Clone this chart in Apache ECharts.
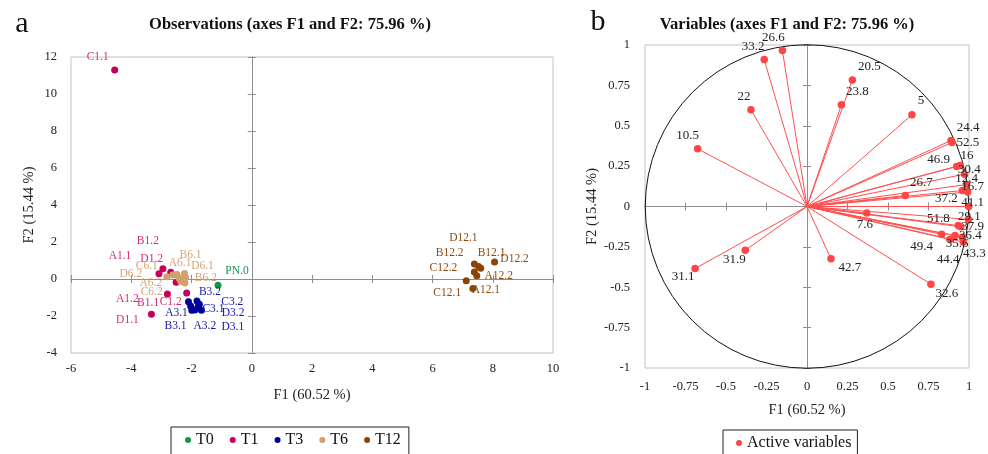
<!DOCTYPE html>
<html>
<head>
<meta charset="utf-8">
<script src="https://cdn.jsdelivr.net/npm/echarts@6/dist/echarts.min.js"></script>
<style>
html,body{margin:0;padding:0;background:#fff;}
#chart{width:988px;height:454px;}
</style>
</head>
<body>
<div id="chart"></div>
<script>
// observations: [label, F1, F2]
const obsT0 = [['PN.0', -1.12, -0.34]];
const obsT1 = [
  ['C1.1', -4.55, 11.3], ['B1.2', -2.95, 0.56], ['A1.1', -3.08, 0.29], ['D1.2', -2.69, 0.36],
  ['A1.2', -2.80, -0.81], ['B1.1', -2.51, -0.18], ['C1.2', -2.16, -0.76], ['D1.1', -3.33, -1.91]
];
const obsT3 = [
  ['B3.2', -1.82, -1.19], ['C3.2', -1.74, -1.36], ['C3.1', -1.67, -1.69], ['D3.2', -1.78, -1.50],
  ['A3.1', -2.10, -1.23], ['B3.1', -2.03, -1.46], ['A3.2', -1.99, -1.69], ['D3.1', -1.89, -1.68]
];
const obsT6 = [
  ['D6.2', -2.82, 0.12], ['C6.1', -2.62, 0.22], ['A6.1', -2.48, 0.25], ['B6.1', -2.23, 0.30],
  ['D6.1', -2.20, 0.08], ['A6.2', -2.42, 0.05], ['B6.2', -2.22, -0.22], ['C6.2', -2.36, -0.12]
];
const obsT12 = [
  ['D12.1', 7.39, 0.81], ['B12.1', 7.53, 0.67], ['D12.2', 8.06, 0.92], ['B12.2', 7.60, 0.58],
  ['C12.2', 7.39, 0.38], ['A12.2', 7.47, 0.18], ['C12.1', 7.12, -0.09], ['A12.1', 7.34, -0.52]
];
const groups = ['T0', 'T1', 'T3', 'T6', 'T12'];

// variables (correlation circle)
const varNames = ['26.6','33.2','22','10.5','20.5','23.8','5','24.4','52.5','46.9','16','30.4','12.4','16.7','26.7',
  '37.2','41.1','29.1','51.8','37.9','36.4','35.6','49.4','44.4','43.3','7.6','42.7','32.6','31.1','31.9'];
const varF1 = [-0.152,-0.264,-0.346,-0.675,0.280,0.212,0.648,0.889,0.895,0.924,0.944,0.972,0.985,0.992,0.607,
  0.959,0.998,0.996,0.934,0.949,0.959,0.914,0.831,0.883,0.965,0.369,0.148,0.765,-0.691,-0.381];
const varF2 = [0.966,0.910,0.599,0.357,0.784,0.630,0.568,0.409,0.396,0.248,0.254,0.200,0.136,0.090,0.068,
  0.099,0.000,-0.080,-0.118,-0.126,-0.190,-0.180,-0.172,-0.204,-0.220,-0.041,-0.324,-0.481,-0.384,-0.271];

const xTicksObs = [-6, 10, 2];
const yTicksObs = [-4, 12, 2];
const ticksVar = [-1, 1, 0.25];

// label placement (pixels, relative to the point)
const obsLabelOffset = {
  'C1.1': [-17,-13], 'B1.2': [-15,-28], 'A1.1': [-39,-18], 'D1.2': [-19,-13], 'A1.2': [-40,5],
  'B1.1': [-28,21], 'C1.2': [-16,9], 'D1.1': [-24,6],
  'D6.2': [-36,-3], 'C6.1': [-26,-9], 'A6.1': [3,-11], 'B6.1': [6,-18], 'D6.1': [17,-12],
  'A6.2': [-28,5], 'B6.2': [21,-5], 'C6.2': [-29,11],
  'B3.2': [13,-9], 'C3.2': [33,-2], 'C3.1': [12,-1], 'D3.2': [35,6], 'A3.1': [-12,11],
  'B3.1': [-15,20], 'A3.2': [13,16], 'D3.1': [38,17],
  'PN.0': [19,-14],
  'D12.1': [-11,-26], 'B12.1': [13,-14], 'D12.2': [20,-3], 'B12.2': [-31,-15], 'C12.2': [-31,-4],
  'A12.2': [22,0], 'C12.1': [-19,12], 'A12.1': [13,1]
};
const varLabelOffset = {
  '26.6': [-9,-13], '33.2': [-11,-13], '22': [-7,-13], '10.5': [-10,-13], '20.5': [17,-13],
  '23.8': [16,-13], '5': [9,-14], '24.4': [17,-13], '52.5': [16,0], '46.9': [-18,-7],
  '16': [7,-10], '30.4': [5,-5], '12.4': [0,-6], '16.7': [5,-5], '26.7': [16,-13],
  '37.2': [-16,8], '41.1': [4,-4], '29.1': [1,-3], '51.8': [-20,-7], '37.9': [12,0],
  '36.4': [8,-2], '35.6': [2,8], '49.4': [-20,12], '44.4': [-2,20], '43.3': [11,12],
  '7.6': [-2,11], '42.7': [19,9], '32.6': [16,9], '31.1': [-12,8], '31.9': [-11,9]
};

const serif = '"Liberation Serif", "DejaVu Serif", serif';
const axisGrey = '#8e8e8e';

function valueAxis(gridIndex, t) {
  return { type: 'value', gridIndex: gridIndex, min: t[0], max: t[1], interval: t[2],
    splitLine: { show: false }, axisPointer: { show: false } };
}
function labelledAxis(gridIndex, t, pos, name, nameGap, margin) {
  return Object.assign(valueAxis(gridIndex, t), {
    position: pos,
    axisLine: { show: false, onZero: false },
    axisTick: { show: false },
    axisLabel: { show: true, margin: margin, fontSize: 12.5, color: '#222', fontFamily: serif,
      showMinLabel: true, showMaxLabel: true },
    name: name, nameLocation: 'middle', nameGap: nameGap,
    nameTextStyle: { fontSize: 14.5, color: '#222', fontFamily: serif }
  });
}
function zeroAxis(gridIndex, t, pos, otherIndex, inside) {
  return Object.assign(valueAxis(gridIndex, t), {
    position: pos,
    axisLine: { show: true, onZero: true, onZeroAxisIndex: otherIndex, lineStyle: { color: axisGrey, width: 1 } },
    axisTick: { show: true, inside: inside, length: 4, lineStyle: { color: axisGrey } },
    axisLabel: { show: false }
  });
}

const colors = { T0: '#12964a', T1: '#c4005c', T3: '#00009c', T6: '#d2a06a', T12: '#8a4406' };
const labelColors = { T0: '#12964a', T1: '#d22c78', T3: '#1414a8', T6: '#d4a46e', T12: '#8b4a10' };

function offsetLayout(names, offsets) {
  return function (params) {
    const o = offsets[names[params.dataIndex]] || [0, -10];
    return { dx: o[0], dy: o[1], hideOverlap: false };
  };
}

function obsSeries(name, rows) {
  return {
    type: 'scatter', name: name, xAxisIndex: 0, yAxisIndex: 0, symbolSize: 7,
    itemStyle: { color: colors[name], opacity: 1 },
    data: rows.map(r => ({ name: r[0], value: [r[1], r[2]] })),
    label: { show: true, position: 'inside', formatter: '{b}', fontSize: 11.5,
      fontFamily: serif, color: labelColors[name] },
    labelLayout: offsetLayout(rows.map(r => r[0]), obsLabelOffset),
    emphasis: { disabled: true }
  };
}

const chart = echarts.init(document.getElementById('chart'), null, { renderer: 'canvas' });
chart.setOption({
  animation: false,
  backgroundColor: '#fff',
  graphic: [
    { type: 'text', x: 290, y: 25, style: { text: 'Observations (axes F1 and F2: 75.96 %)',
      font: 'bold 16.5px ' + serif, fill: '#111', textAlign: 'center', textVerticalAlign: 'middle', verticalAlign: 'middle' } },
    { type: 'text', x: 787, y: 25, style: { text: 'Variables (axes F1 and F2: 75.96 %)',
      font: 'bold 16.5px ' + serif, fill: '#111', textAlign: 'center', textVerticalAlign: 'middle', verticalAlign: 'middle' } },
    { type: 'text', x: 22, y: 24, style: { text: 'a', font: '30px ' + serif, fill: '#111',
      textAlign: 'center', textVerticalAlign: 'middle', verticalAlign: 'middle' } },
    { type: 'text', x: 598, y: 22, style: { text: 'b', font: '30px ' + serif, fill: '#111',
      textAlign: 'center', textVerticalAlign: 'middle', verticalAlign: 'middle' } }
  ],
  grid: [
    { left: 71, top: 57, width: 482, height: 296, show: true, borderColor: '#c2c2c2', borderWidth: 1,
      backgroundColor: 'transparent', outerBoundsMode: 'none', containLabel: false },
    { left: 645, top: 45, width: 324, height: 323, show: true, borderColor: '#c2c2c2', borderWidth: 1,
      backgroundColor: 'transparent', outerBoundsMode: 'none', containLabel: false }
  ],
  xAxis: [
    labelledAxis(0, xTicksObs, 'bottom', 'F1 (60.52 %)', 35, 9),
    zeroAxis(0, xTicksObs, 'bottom', 0, false),
    zeroAxis(0, xTicksObs, 'bottom', 0, true),
    labelledAxis(1, ticksVar, 'bottom', 'F1 (60.52 %)', 35, 12),
    zeroAxis(1, ticksVar, 'bottom', 3, false),
    zeroAxis(1, ticksVar, 'bottom', 3, true)
  ],
  yAxis: [
    labelledAxis(0, yTicksObs, 'left', 'F2 (15.44 %)', 34, 14),
    zeroAxis(0, yTicksObs, 'left', 0, false),
    zeroAxis(0, yTicksObs, 'left', 0, true),
    labelledAxis(1, ticksVar, 'left', 'F2 (15.44 %)', 44, 15),
    zeroAxis(1, ticksVar, 'left', 3, false),
    zeroAxis(1, ticksVar, 'left', 3, true)
  ],
  legend: [
    { data: groups, left: 171, top: 427, orient: 'horizontal', icon: 'circle',
      itemWidth: 6, itemHeight: 6, itemGap: 16, borderColor: '#222', borderWidth: 1,
      padding: [5, 8, 8, 14], selectedMode: false,
      textStyle: { fontSize: 16, fontFamily: serif, color: '#111' } },
    { data: ['Active variables'], left: 723, top: 430, orient: 'horizontal', icon: 'circle',
      itemWidth: 6, itemHeight: 6, borderColor: '#222', borderWidth: 1,
      padding: [5, 6, 8, 13], selectedMode: false,
      textStyle: { fontSize: 16, fontFamily: serif, color: '#111' } }
  ],
  series: [
    obsSeries('T0', obsT0),
    obsSeries('T1', obsT1),
    obsSeries('T3', obsT3),
    obsSeries('T6', obsT6),
    obsSeries('T12', obsT12),
    {
      type: 'custom', name: 'circle', xAxisIndex: 3, yAxisIndex: 3, data: [[0, 0]],
      silent: true, clip: false, z: 1,
      renderItem: function (params, api) {
        const c = api.coord([api.value(0), api.value(1)]);
        const s = api.size([1, 1]);
        return { type: 'circle', shape: { cx: c[0], cy: c[1], r: (s[0] + s[1]) / 2 },
          style: { fill: 'none', stroke: '#111', lineWidth: 1 } };
      }
    },
    {
      type: 'lines', name: 'vectors', coordinateSystem: 'cartesian2d', xAxisIndex: 3, yAxisIndex: 3,
      silent: true, z: 2,
      lineStyle: { color: '#ff4f4f', width: 1, opacity: 1 },
      data: varNames.map((n, i) => ({ coords: [[0, 0], [varF1[i], varF2[i]]] }))
    },
    {
      type: 'scatter', name: 'Active variables', xAxisIndex: 3, yAxisIndex: 3, symbolSize: 7.5, z: 3,
      itemStyle: { color: '#ff4545', opacity: 1 },
      data: varNames.map((n, i) => ({ name: n, value: [varF1[i], varF2[i]] })),
      label: { show: true, position: 'inside', formatter: '{b}', fontSize: 13,
        fontFamily: serif, color: '#222' },
      labelLayout: offsetLayout(varNames, varLabelOffset),
      emphasis: { disabled: true }
    }
  ]
});
</script>
</body>
</html>
